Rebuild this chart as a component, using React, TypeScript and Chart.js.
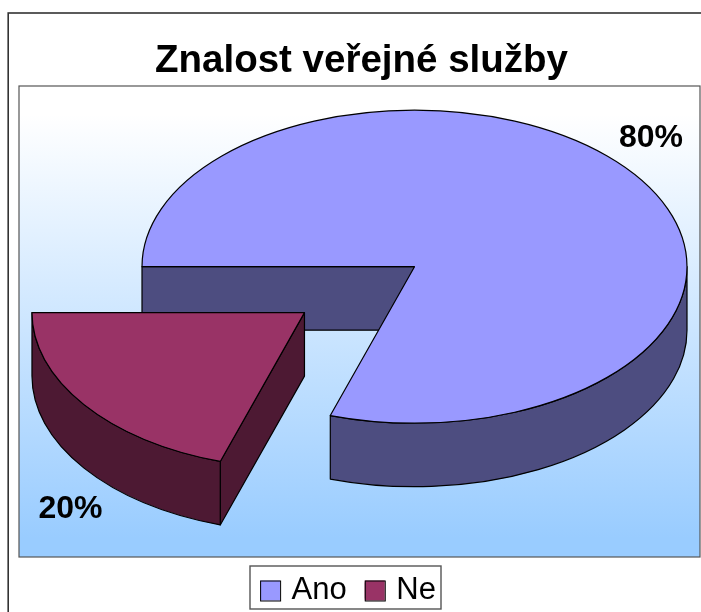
import React, { useEffect, useRef } from "react";
import { Chart, registerables } from "chart.js";

Chart.register(...registerables);

const titleText = "Znalost veřejné služby";
const categories = ["Ano", "Ne"];
const answerShares = [80, 20];
const sliceColors = ["#9999FF", "#993366"];
const wallColors = ["#4D4D80", "#4D1933"];
const explodeDistances = [0, 136];

const FONT = "'Liberation Sans', Arial, sans-serif";
const W = 701;
const H = 612;
const PIE = { cx: 414.5, cy: 266.7, tilt: 156.5 / 272.5, depth: 63.5 };
const PLOT = { l: 19, t: 86, r: 700, b: 557 };
const LABEL_ANCHORS = [
  { x: 651, y: 138 },
  { x: 70.5, y: 509 },
];

const pie3d = {
  id: "pie3d",
  afterLayout(chart: any) {
    chart.titleBlock.left += 13.5;
    chart.titleBlock.right += 13.5;
  },
  beforeDraw(chart: any) {
    const ctx = chart.ctx;
    ctx.save();
    ctx.fillStyle = "#FFFFFF";
    ctx.fillRect(0, 0, W, H);
    ctx.strokeStyle = "#333333";
    ctx.lineWidth = 1.6;
    ctx.strokeRect(8.2, 13, W + 50, H + 50);
    const g = ctx.createLinearGradient(0, PLOT.t, 0, PLOT.b);
    g.addColorStop(0, "#FFFFFF");
    g.addColorStop(0.06, "#FFFFFF");
    g.addColorStop(0.96, "#99CCFF");
    g.addColorStop(1, "#99CCFF");
    ctx.fillStyle = g;
    ctx.fillRect(PLOT.l, PLOT.t, PLOT.r - PLOT.l, PLOT.b - PLOT.t);
    ctx.strokeStyle = "#555555";
    ctx.lineWidth = 1.2;
    ctx.strokeRect(PLOT.l, PLOT.t, PLOT.r - PLOT.l, PLOT.b - PLOT.t);
    ctx.restore();
  },
  beforeDatasetDraw(chart: any, args: any) {
    const ctx = chart.ctx;
    const { cx, cy, tilt, depth } = PIE;
    const total = answerShares.reduce((a, b) => a + b, 0);
    args.meta.data.forEach((arc: any, i: number) => {
      const s = arc.startAngle;
      const e = arc.endAngle;
      const R = arc.outerRadius;
      const mid = (s + e) / 2;
      const d = explodeDistances[i];
      const ox = cx + Math.cos(mid) * d;
      const oy = cy + Math.sin(mid) * d * tilt;
      const ry = R * tilt;
      const pt = (a: number) => [ox + R * Math.cos(a), oy + ry * Math.sin(a)];

      ctx.save();
      ctx.lineWidth = 1.2;
      ctx.strokeStyle = "#000000";
      ctx.lineJoin = "round";
      ctx.fillStyle = wallColors[i];

      const face = (a: number) => {
        const p = pt(a);
        ctx.beginPath();
        ctx.moveTo(ox, oy);
        ctx.lineTo(p[0], p[1]);
        ctx.lineTo(p[0], p[1] + depth);
        ctx.lineTo(ox, oy + depth);
        ctx.closePath();
        ctx.fill();
        ctx.stroke();
      };
      if (-Math.cos(s) > 0) face(s);
      if (Math.cos(e) > 0) face(e);

      const TAU = Math.PI * 2;
      const a0 = Math.max(s, TAU);
      const a1 = Math.min(e, TAU + Math.PI);
      if (a1 > a0) {
        ctx.beginPath();
        ctx.ellipse(ox, oy, R, ry, 0, a0, a1);
        ctx.ellipse(ox, oy + depth, R, ry, 0, a1, a0, true);
        ctx.closePath();
        ctx.fill();
        ctx.stroke();
      }

      ctx.save();
      ctx.translate(ox, oy);
      ctx.scale(1, tilt);
      ctx.translate(-arc.x, -arc.y);
      arc.draw(ctx);
      ctx.restore();

      ctx.beginPath();
      ctx.moveTo(ox, oy);
      ctx.ellipse(ox, oy, R, ry, 0, s, e);
      ctx.closePath();
      ctx.stroke();
      ctx.restore();
    });

    ctx.save();
    ctx.fillStyle = "#000000";
    ctx.font = `bold 32px ${FONT}`;
    ctx.textAlign = "center";
    ctx.textBaseline = "middle";
    answerShares.forEach((v, i) => {
      ctx.fillText(`${Math.round((v / total) * 100)}%`, LABEL_ANCHORS[i].x, LABEL_ANCHORS[i].y);
    });
    ctx.restore();
    return false;
  },
  afterDraw(chart: any) {
    const ctx = chart.ctx;
    const boxes = chart.legend.legendHitBoxes;
    ctx.save();
    ctx.strokeStyle = "#555555";
    ctx.lineWidth = 1.4;
    ctx.strokeRect(250, 566, 191, 43);
    boxes.forEach((b: any, i: number) => {
      const size = 20;
      const midY = b.top + b.height / 2;
      ctx.fillStyle = sliceColors[i];
      ctx.strokeStyle = "#000000";
      ctx.lineWidth = 1;
      ctx.fillRect(b.left, midY - size / 2, size, size);
      ctx.strokeRect(b.left + 0.5, midY - size / 2 + 0.5, size, size);
    });
    ctx.restore();
  },
};

export default function App() {
  const ref = useRef<HTMLCanvasElement | null>(null);
  useEffect(() => {
    const chart = new Chart(ref.current as HTMLCanvasElement, {
      type: "pie",
      data: {
        labels: categories,
        datasets: [
          {
            data: answerShares,
            backgroundColor: sliceColors,
            borderWidth: 0,
          },
        ],
      },
      options: {
        responsive: false,
        animation: false,
        rotation: 270,
        radius: 272.5,
        layout: { padding: { left: 0, right: 5, top: 0, bottom: -4 } },
        plugins: {
          tooltip: { enabled: false },
          title: {
            display: true,
            text: titleText,
            color: "#000000",
            font: { family: FONT, size: 38.5, weight: "bold" },
            padding: { top: 38, bottom: 0 },
          },
          legend: {
            display: true,
            position: "bottom",
            labels: {
              color: "#000000",
              font: { family: FONT, size: 31 },
              boxWidth: 16,
              boxHeight: 16,
              padding: 18,
            },
          },
        },
      },
      plugins: [pie3d],
    } as any);
    return () => chart.destroy();
  }, []);
  return (
    <canvas
      ref={ref}
      width={W}
      height={H}
      style={{ position: "absolute", left: 0, top: 0, display: "block" }}
    />
  );
}
